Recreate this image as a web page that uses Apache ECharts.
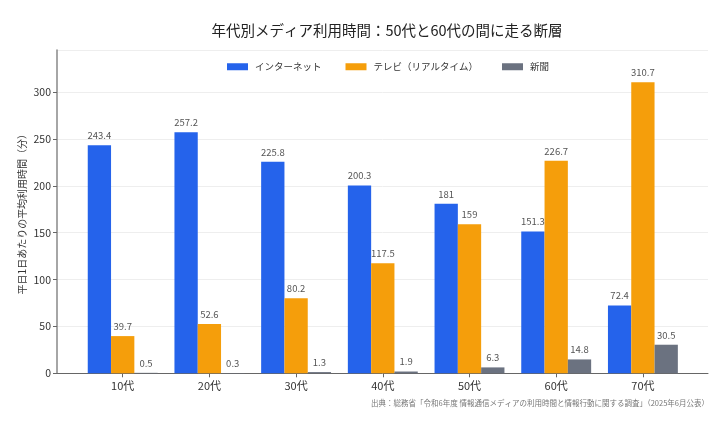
<!DOCTYPE html>
<html>
<head>
<meta charset="utf-8">
<script src="https://cdn.jsdelivr.net/npm/echarts@6/dist/echarts.min.js"></script>
<style>
  html, body { margin: 0; padding: 0; background: #fff; }
  #chart { width: 718px; height: 421px; }
</style>
</head>
<body>
<div id="chart"></div>
<script>
const ages = ['10代', '20代', '30代', '40代', '50代', '60代', '70代']
const internet = [243.4, 257.2, 225.8, 200.3, 181, 151.3, 72.4]
const tv = [39.7, 52.6, 80.2, 117.5, 159, 226.7, 310.7]
const paper = [0.5, 0.3, 1.3, 1.9, 6.3, 14.8, 30.5]

const FONT = '"Noto Sans CJK JP", "Noto Sans", sans-serif'
const Y_MAX = 345

const makeBar = (name, data, color) => ({
    name: name,
    type: 'bar',
    xAxisIndex: 1,
    yAxisIndex: 1,
    data: data,
    barWidth: 23.3,
    barGap: '0%',
    itemStyle: { color: color },
    label: {
        show: true,
        position: 'top',
        distance: 5,
        color: '#555',
        fontSize: 9.5,
        fontFamily: FONT
    }
})

var myChart = echarts.init(document.getElementById('chart'))
var option = {
    backgroundColor: '#fff',
    animation: false,
    textStyle: { fontFamily: FONT },
    title: {
        text: '年代別メディア利用時間：50代と60代の間に走る断層',
        left: 382,
        top: 18,
        textAlign: 'center',
        textStyle: { fontSize: 14.5, fontWeight: 'normal', color: '#222', fontFamily: FONT }
    },
    legend: {
        left: 222,
        top: 57,
        itemWidth: 21,
        itemHeight: 7,
        itemGap: 24,
        icon: 'rect',
        textStyle: { fontSize: 9.5, color: '#333', fontFamily: FONT, padding: [0, 0, 0, 2] },
        data: ['インターネット', 'テレビ（リアルタイム）', '新聞']
    },
    grid: [
        { left: 57, right: 10, top: 50, bottom: 47.7 },
        { left: 79.35, right: 31.75, top: 50, bottom: 47.7 }
    ],
    xAxis: [
        {
            type: 'value',
            gridIndex: 0,
            min: 0,
            max: 1,
            axisLine: { show: true, lineStyle: { color: '#666', width: 1 } },
            axisTick: { show: false },
            axisLabel: { show: false },
            splitLine: { show: false }
        },
        {
            type: 'category',
            gridIndex: 1,
            data: ages,
            axisLine: { show: false },
            axisTick: { show: true, alignWithLabel: true, length: 4, lineStyle: { color: '#666' } },
            axisLabel: { color: '#333', fontSize: 11, margin: 7, fontFamily: FONT },
            splitLine: { show: false }
        }
    ],
    yAxis: [
        {
            type: 'value',
            gridIndex: 0,
            min: 0,
            max: Y_MAX,
            interval: 50,
            name: '平日1日あたりの平均利用時間（分）',
            nameLocation: 'middle',
            nameRotate: 90,
            nameGap: 30,
            nameMoveOverlap: false,
            nameTextStyle: { fontSize: 10, color: '#333', fontFamily: FONT },
            axisLine: { show: true, lineStyle: { color: '#888', width: 1.5 } },
            axisTick: { show: true, length: 4, lineStyle: { color: '#666' } },
            axisLabel: {
                color: '#333', fontSize: 10.5, margin: 6, fontFamily: FONT,
                showMaxLabel: false
            },
            splitLine: { show: true, lineStyle: { color: '#eeeeee', width: 1 } }
        },
        {
            type: 'value',
            gridIndex: 1,
            min: 0,
            max: Y_MAX,
            show: false
        }
    ],
    graphic: [{
        type: 'text',
        right: 9,
        top: 399,
        style: {
            text: '出典：総務省「令和6年度 情報通信メディアの利用時間と情報行動に関する調査」（2025年6月公表）',
            fill: '#777',
            fontSize: 7.5,
            fontFamily: FONT
        }
    }],
    series: [
        makeBar('インターネット', internet, '#2563eb'),
        makeBar('テレビ（リアルタイム）', tv, '#f59e0b'),
        makeBar('新聞', paper, '#6b7280')
    ]
}
myChart.setOption(option)
</script>
</body>
</html>
